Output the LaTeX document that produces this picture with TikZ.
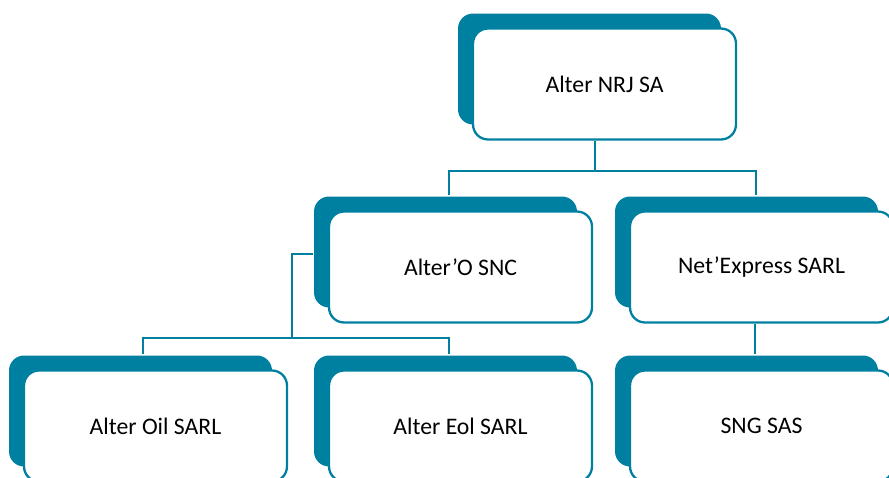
\documentclass[tikz,border=0pt]{standalone}
\usepackage{fontspec}
\setmainfont{Carlito}
\usetikzlibrary{calc, shadows}
\definecolor{petrol}{RGB}{0,128,160}
\begin{document}
\begin{tikzpicture}[x=0.02cm, y=-0.02cm,
      firm/.style={draw=petrol, line width=1.3pt, fill=white, rounded corners=0.3cm,
        minimum width=5.26cm, minimum height=2.22cm, font=\fontsize{13.5}{16}\selectfont,
        drop shadow={fill=petrol, opacity=1, shadow xshift=-0.3cm, shadow yshift=0.3cm}},
      link/.style={draw=petrol, line width=1.1pt}]
  \clip (0,0) rectangle (889,477);
  \node[firm] (nrj) at (604.5,84) {Alter NRJ SA};
  \node[firm] (snc) at (460.5,267) {Alter’O SNC};
  \node[firm] (net) at (761.5,267) {Net’Express SARL};
  \node[firm] (oil) at (155.5,426) {Alter Oil SARL};
  \node[firm] (eol) at (460.5,426) {Alter Eol SARL};
  \node[firm] (sng) at (761.5,426) {SNG SAS};
  % links
  \draw[link] ($(nrj.south)+(-9.5,0)$) -- ++(0,30) coordinate (top);
  \draw[link] (top) -| ($(snc.north)+(-11.5,-15)$);
  \draw[link] (top) -| ($(net.north)+(-5.5,-15)$);
  \draw[link] ($(snc.west)+(-15,-13)$) -- ++(-21,0) -- ++(0,84) coordinate (mid);
  \draw[link] (mid) -| ($(oil.north)+(-12.5,-15)$);
  \draw[link] (mid) -| ($(eol.north)+(-11.5,-15)$);
  \draw[link] ($(net.south)+(-6.5,0)$) -- ($(sng.north)+(-6.5,-15)$);
\end{tikzpicture}
\end{document}
